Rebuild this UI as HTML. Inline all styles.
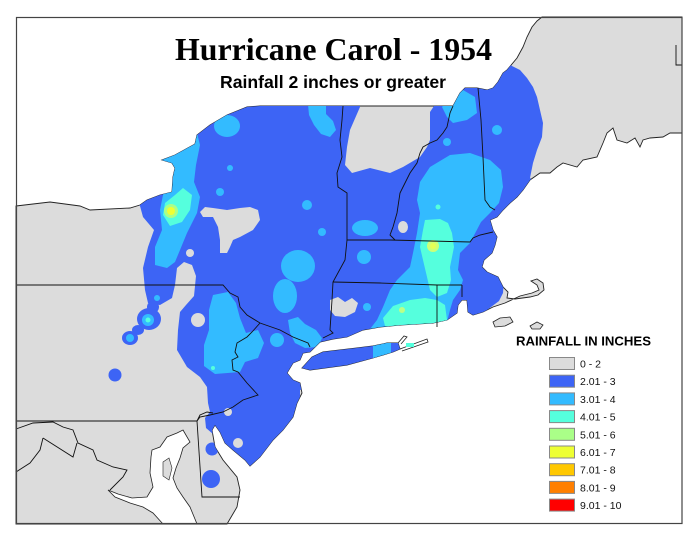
<!DOCTYPE html>
<html><head><meta charset="utf-8"><style>
html,body{margin:0;padding:0;background:#fff;}
svg{display:block;}
</style></head><body>
<svg width="700" height="541" viewBox="0 0 700 541" xmlns="http://www.w3.org/2000/svg">
<defs>
<clipPath id="land">
<polygon id="landpoly" points="16,206 50,202 80,206 90,210 130,208 140,205 147,200 160,195 172,192 173,177 175,168 172,163 162,160 175,155 195,144 197,135 210,125 227,115 247,107 260,106 453,106 460,93 465,88 477,88 487,90 493,88 498,82 503,73 507,70 517,58 523,47 527,37 532,27 537,21 542,17 682,17 682,133 670,133 663,137 650,138 643,140 640,147 635,138 627,143 617,140 613,128 607,133 603,143 597,157 583,160 577,167 563,163 557,167 550,173 540,173 530,180 523,190 517,197 510,203 503,210 497,217 490,220 493,230 497,237 495,245 492,253 484,260 482,267 487,272 498,277 503,287 508,292 507,298 515,299 530,297 538,295 544,290 543,283 537,279 531,281 537,285 539,290 532,293 520,296 505,303 493,307 483,312 473,315 468,312 467,300 462,300 458,305 457,313 447,320 433,323 400,325 380,327 363,330 347,337 333,339 320,342 315,347 310,352 303,353 300,360 293,363 287,373 293,380 300,383 302,393 297,403 293,417 283,430 273,440 260,457 250,466 245,460 233,450 225,443 220,432 215,425 212,430 215,447 223,460 237,477 240,490 237,507 227,524 16,524"/>
<polygon points="302,368 310,370 347,365 373,358 393,352 400,349 398,343 387,343 373,346 357,348 323,352 312,357"/>
</clipPath>
</defs>
<rect x="0" y="0" width="700" height="541" fill="#fff"/>

<!-- land gray -->
<polygon points="16,206 50,202 80,206 90,210 130,208 140,205 147,200 160,195 172,192 173,177 175,168 172,163 162,160 175,155 195,144 197,135 210,125 227,115 247,107 260,106 453,106 460,93 465,88 477,88 487,90 493,88 498,82 503,73 507,70 517,58 523,47 527,37 532,27 537,21 542,17 682,17 682,133 670,133 663,137 650,138 643,140 640,147 635,138 627,143 617,140 613,128 607,133 603,143 597,157 583,160 577,167 563,163 557,167 550,173 540,173 530,180 523,190 517,197 510,203 503,210 497,217 490,220 493,230 497,237 495,245 492,253 484,260 482,267 487,272 498,277 503,287 508,292 507,298 515,299 530,297 538,295 544,290 543,283 537,279 531,281 537,285 539,290 532,293 520,296 505,303 493,307 483,312 473,315 468,312 467,300 462,300 458,305 457,313 447,320 433,323 400,325 380,327 363,330 347,337 333,339 320,342 315,347 310,352 303,353 300,360 293,363 287,373 293,380 300,383 302,393 297,403 293,417 283,430 273,440 260,457 250,466 245,460 233,450 225,443 220,432 215,425 212,430 215,447 223,460 237,477 240,490 237,507 227,524 16,524" fill="#dcdcdc" stroke="#222" stroke-width="0.9"/>
<polygon points="302,368 310,370 347,365 373,358 393,352 400,349 398,343 387,343 373,346 357,348 323,352 312,357" fill="#dcdcdc" stroke="#222" stroke-width="0.9"/>

<!-- rainfall layers -->
<g clip-path="url(#land)">
<polygon fill="#3d64f5" points="140,206 125,185 150,140 240,95 360,95 360,107 350,130 347,147 345,165 352,173 370,168 390,173 403,167 420,157 427,147 430,140 430,112 438,100 470,80 505,60 512,66 520,70 527,78 533,87 537,97 540,110 543,123 542,137 537,150 533,163 530,178 545,190 560,210 560,240 510,262 504,280 503,293 499,301 487,310 470,330 440,350 300,390 300,420 275,460 255,478 238,468 222,448 213,434 206,428 205,418 210,412 208,403 207,387 200,377 187,367 177,350 178,330 180,312 186,305 194,296 196,276 192,265 184,262 177,268 175,285 172,298 160,305 148,303 145,290 143,268 148,247 154,230 143,217"/>
<!-- west PA blobs -->
<ellipse cx="153" cy="307" rx="6" ry="6" fill="#3d64f5"/>
<ellipse cx="149" cy="319" rx="12" ry="11" fill="#3d64f5"/>
<ellipse cx="138" cy="330" rx="6" ry="5" fill="#3d64f5"/>
<ellipse cx="130" cy="338" rx="8" ry="7" fill="#3d64f5"/>
<circle cx="115" cy="375" r="6.5" fill="#3d64f5"/>
<circle cx="148" cy="320" r="6" fill="#33bbff"/>
<circle cx="148" cy="320" r="2.5" fill="#55ffdd"/>
<circle cx="130" cy="338" r="4" fill="#33bbff"/>
<circle cx="157" cy="298" r="3" fill="#33bbff"/>
<!-- DE dots -->
<circle cx="212" cy="449" r="6.5" fill="#3d64f5"/>
<circle cx="211" cy="479" r="9" fill="#3d64f5"/>

<!-- gray holes -->
<g fill="#dcdcdc">
<polygon points="200,212 205,207 213,208 227,210 240,208 250,207 258,210 260,220 253,230 240,237 233,240 230,247 227,253 220,253 220,240 218,227 213,217 203,217"/>
<circle cx="190" cy="253" r="4"/>
<circle cx="198" cy="320" r="7"/>
<circle cx="228" cy="412" r="4"/>
<circle cx="238" cy="443" r="5"/>
<ellipse cx="403" cy="227" rx="5" ry="6"/>
<polygon points="330,300 338,297 345,302 352,298 358,303 355,312 345,317 335,316 330,310"/>
</g>

<!-- light blue 3-4 -->
<g fill="#33bbff">
<polygon points="158,157 197,133 200,145 196,165 194,182 200,197 197,213 187,233 180,250 175,262 167,268 155,265 155,247 162,230 160,210 163,195 168,180"/>
<ellipse cx="227" cy="126" rx="13" ry="11"/>
<polygon points="308,104 326,104 326,114 333,121 336,130 330,137 321,134 314,125 309,115"/>
<circle cx="230" cy="168" r="3"/>
<circle cx="220" cy="192" r="4"/>
<circle cx="307" cy="205" r="5"/>
<circle cx="322" cy="232" r="4"/>
<ellipse cx="298" cy="266" rx="17" ry="16"/>
<ellipse cx="285" cy="296" rx="12" ry="17"/>
<polygon points="213,295 228,292 236,303 240,318 246,333 258,330 264,343 258,358 245,362 240,372 215,374 204,366 204,345 209,330 209,310"/>
<circle cx="277" cy="340" r="7"/>
<polygon points="288,320 298,317 305,324 316,330 322,338 318,347 305,348 295,343 290,333"/>
<ellipse cx="365" cy="228" rx="13" ry="8"/>
<circle cx="364" cy="257" r="7"/>
<circle cx="367" cy="307" r="4"/>
<polygon points="442,107 450,97 463,90 475,97 477,113 467,120 453,123 447,117"/>
<circle cx="497" cy="130" r="5"/>
<circle cx="447" cy="142" r="4"/>
<circle cx="438" cy="207" r="5"/>
<polygon points="420,182 430,167 450,155 470,153 490,160 501,170 503,187 499,203 490,213 481,222 470,243 460,253 458,270 463,280 460,290 453,300 450,310 447,322 440,328 390,330 370,329 377,320 383,307 390,290 397,280 410,267 413,253 417,233 420,213 417,200"/>
<rect x="373" y="340" width="18" height="20"/>
</g>
<!-- cyan 4-5 -->
<g fill="#55ffdd">
<polygon points="183,188 192,195 190,210 182,222 170,226 163,215 165,203 175,195"/>
<polygon points="425,220 440,219 448,223 452,233 454,247 450,267 451,280 447,293 437,297 430,290 427,277 423,260 420,247 423,230"/>
<polygon points="383,318 393,306 410,300 425,298 437,300 445,305 447,320 440,326 400,328 385,326"/>
<circle cx="438" cy="207" r="2.5"/>
</g>
<circle cx="213" cy="368" r="2" fill="#55ffdd"/>
<circle cx="171" cy="211" r="7" fill="#aaff88"/>
<circle cx="171" cy="211" r="4" fill="#eeff33"/>
<circle cx="433" cy="246" r="6" fill="#ccff77"/>
<circle cx="433" cy="246" r="3" fill="#e6ff55"/>
<circle cx="402" cy="310" r="3" fill="#bbff88"/>
</g>

<!-- LI east forks -->
<polyline points="398,343 404,336 407,337 401,344" fill="none" stroke="#222" stroke-width="0.8"/>
<polyline points="400,349 427,339 428,342 402,351" fill="none" stroke="#222" stroke-width="0.8"/>
<rect x="406" y="343" width="8" height="4" fill="#55ffdd"/>

<!-- islands -->
<polygon points="493,322 500,318 510,317 513,322 505,326 495,327" fill="#dcdcdc" stroke="#222" stroke-width="0.8"/>
<polygon points="530,326 537,322 543,325 540,329 532,329" fill="#dcdcdc" stroke="#222" stroke-width="0.8"/>

<!-- Chesapeake -->
<polygon points="183,430 190,442 183,448 180,458 176,468 173,478 177,488 183,497 190,507 197,524 163,524 153,513 143,507 130,503 115,497 108,490 118,494 132,498 147,497 153,487 150,473 151,457 152,450 160,447 167,437 177,433" fill="#fff" stroke="#222" stroke-width="0.8"/>
<polygon points="163,462 169,458 172,468 169,480 163,476" fill="#dcdcdc" stroke="#222" stroke-width="0.6"/>

<!-- state borders -->
<g fill="none" stroke="#111" stroke-width="0.9">
<polyline points="16,285 223,285 230,293 238,297 240,307 247,315 260,323 280,330 293,337 308,343 310,347"/>
<polyline points="260,323 252,332 247,337 237,343 235,352 238,357 232,360 233,370 238,372 247,383 258,395 243,400 233,407 223,412 210,415 200,417 197,421"/>
<polyline points="16,421 197,421"/>
<polyline points="197,421 202,497 240,497"/>
<polyline points="197,421 200,415 207,412 213,413"/>
<polyline points="343,106 342,120 340,140 342,157 337,173 338,187 347,193 347,240"/>
<polyline points="347,240 345,260 333,282 332,300 330,330 333,333 323,338"/>
<polyline points="347,240 390,240 470,242 473,238 480,235 493,232"/>
<polyline points="453,106 450,113 447,127 443,133 437,140 430,143 423,147 420,153 417,163 410,173 403,187 400,193 397,213 393,227 390,235 395,240"/>
<polyline points="478,88 481,120 483,157 485,200 490,207 495,210"/>
<polyline points="333,282 380,283 437,285 462,285"/>
<polyline points="437,285 437,327"/>
<polyline points="462,285 462,297"/>
<polyline points="16,429 33,423 53,422 63,427 73,430 78,443 93,450 97,460 113,467 127,470 123,477 110,490"/>
<polyline points="43,438 73,457 77,443"/>
<polyline points="43,438 40,450 30,463 16,472"/>
<polyline points="676,45 676,65 682,65"/>
</g>

<!-- frame -->
<rect x="16.5" y="17.5" width="665.5" height="506" fill="none" stroke="#444" stroke-width="1.2"/>

<!-- titles -->
<text x="333.5" y="60" text-anchor="middle" font-family="'Liberation Serif', serif" font-weight="bold" font-size="32" textLength="317" lengthAdjust="spacingAndGlyphs">Hurricane Carol - 1954</text>
<text x="333" y="88" text-anchor="middle" font-family="'Liberation Sans', sans-serif" font-weight="bold" font-size="17.5" textLength="226" lengthAdjust="spacingAndGlyphs">Rainfall 2 inches or greater</text>

<!-- legend -->
<text x="583.5" y="345.5" text-anchor="middle" font-family="'Liberation Sans', sans-serif" font-weight="bold" font-size="13" textLength="135" lengthAdjust="spacingAndGlyphs">RAINFALL IN INCHES</text>
<g stroke="#888" stroke-width="1">
<rect x="549.5" y="357.5" width="25" height="12" fill="#dcdcdc"/>
<rect x="549.5" y="375.2" width="25" height="12" fill="#3d64f5"/>
<rect x="549.5" y="392.9" width="25" height="12" fill="#33bbff"/>
<rect x="549.5" y="410.6" width="25" height="12" fill="#55ffdd"/>
<rect x="549.5" y="428.3" width="25" height="12" fill="#aaff88"/>
<rect x="549.5" y="446.0" width="25" height="12" fill="#eeff33"/>
<rect x="549.5" y="463.7" width="25" height="12" fill="#ffc800"/>
<rect x="549.5" y="481.4" width="25" height="12" fill="#ff7f00"/>
<rect x="549.5" y="499.1" width="25" height="12" fill="#ff0000"/>
</g>
<g font-family="'Liberation Sans', sans-serif" font-size="10.5" fill="#111">
<text x="580" y="367.5">0 - 2</text>
<text x="580" y="385.2">2.01 - 3</text>
<text x="580" y="402.9">3.01 - 4</text>
<text x="580" y="420.6">4.01 - 5</text>
<text x="580" y="438.3">5.01 - 6</text>
<text x="580" y="456.0">6.01 - 7</text>
<text x="580" y="473.7">7.01 - 8</text>
<text x="580" y="491.4">8.01 - 9</text>
<text x="580" y="509.1">9.01 - 10</text>
</g>
</svg>
</body></html>
